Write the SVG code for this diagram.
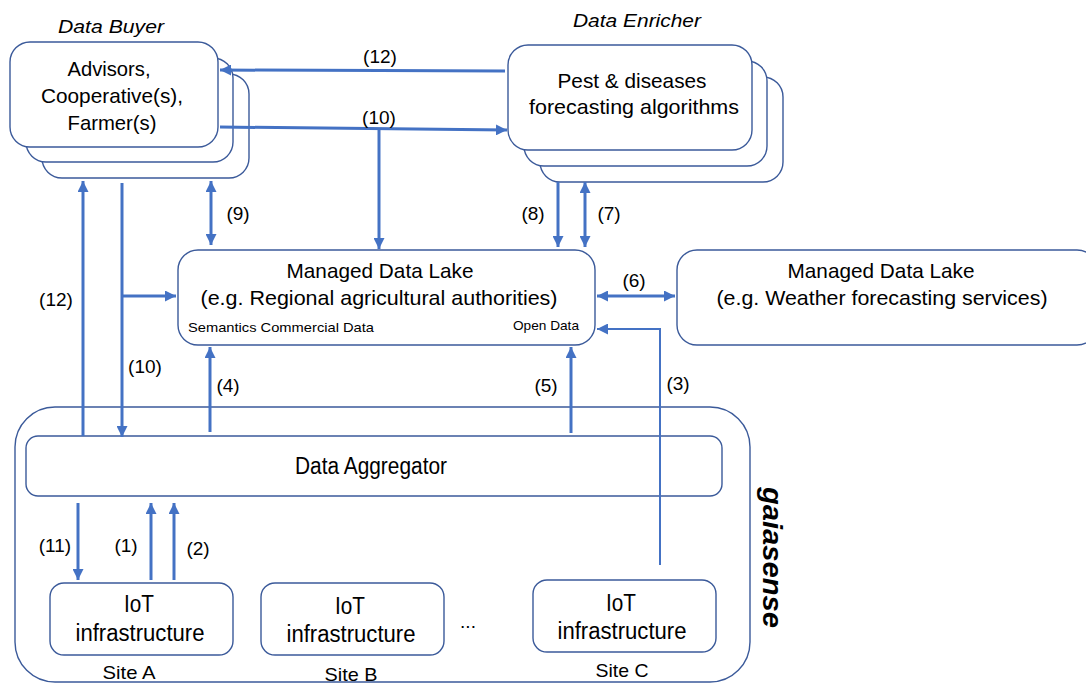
<svg xmlns="http://www.w3.org/2000/svg" width="1086" height="684" viewBox="0 0 1086 684">
<style>
.box{fill:#fff;stroke:#3B5A9A;stroke-width:1.4}
.t{font-family:"Liberation Sans",Arial,sans-serif;font-size:21px;fill:#000;text-anchor:middle}
.tc{font-family:"Liberation Sans",Arial,sans-serif;font-size:23px;fill:#000;text-anchor:middle}
.lb{font-family:"Liberation Sans",Arial,sans-serif;font-size:19px;fill:#000;text-anchor:middle}
.sm{font-family:"Liberation Sans",Arial,sans-serif;font-size:13px;fill:#000}
.it{font-family:"Liberation Sans",Arial,sans-serif;font-size:19px;font-style:italic;fill:#000;text-anchor:middle}
.c{fill:none;stroke:#4472C4;stroke-width:3}
.c2{fill:none;stroke:#4472C4;stroke-width:2}
</style>
<defs>
<marker id="ah" viewBox="0 0 10 10" refX="10" refY="5" markerWidth="11" markerHeight="11" markerUnits="userSpaceOnUse" orient="auto-start-reverse">
<path d="M0,0 L10,5 L0,10 Z" fill="#4472C4"/>
</marker>
</defs>
<rect width="1086" height="684" fill="#fff"/>

<g id="gaiasense">
<rect class="box" x="15" y="407" width="735" height="275" rx="40"/>
<text x="770" y="487" transform="rotate(90 770 487)" textLength="141" lengthAdjust="spacingAndGlyphs" style="font-family:'Liberation Sans',Arial,sans-serif;font-size:27px;font-weight:bold;font-style:italic" dominant-baseline="middle">gaiasense</text>
</g>

<g id="data-buyer">
<text class="it" x="111" y="33" textLength="106" lengthAdjust="spacingAndGlyphs">Data Buyer</text>
<rect class="box" x="42" y="74" width="207" height="104" rx="20"/>
<rect class="box" x="26" y="58" width="207" height="104" rx="20"/>
<rect class="box" x="10" y="42" width="208" height="105" rx="20"/>
<text class="t" x="109" y="76" textLength="83" lengthAdjust="spacingAndGlyphs">Advisors,</text>
<text class="t" x="112" y="103" textLength="142" lengthAdjust="spacingAndGlyphs">Cooperative(s),</text>
<text class="t" x="112" y="130" textLength="89" lengthAdjust="spacingAndGlyphs">Farmer(s)</text>
</g>

<g id="data-enricher">
<text class="it" x="637" y="27" textLength="128" lengthAdjust="spacingAndGlyphs">Data Enricher</text>
<rect class="box" x="540" y="77" width="243" height="105" rx="20"/>
<rect class="box" x="524" y="61" width="243" height="105" rx="20"/>
<rect class="box" x="508" y="45" width="244" height="105" rx="20"/>
<text class="t" x="632" y="88" textLength="149" lengthAdjust="spacingAndGlyphs">Pest &amp; diseases</text>
<text class="t" x="634" y="114" textLength="210" lengthAdjust="spacingAndGlyphs">forecasting algorithms</text>
</g>

<g id="lake1">
<rect class="box" x="178" y="250" width="417" height="95" rx="20"/>
<text class="t" x="380" y="278" textLength="187" lengthAdjust="spacingAndGlyphs">Managed Data Lake</text>
<text class="t" x="379" y="305" textLength="357" lengthAdjust="spacingAndGlyphs">(e.g. Regional agricultural authorities)</text>
<text class="sm" x="188" y="332" textLength="186" lengthAdjust="spacingAndGlyphs">Semantics  Commercial Data</text>
<text class="sm" x="513" y="330" textLength="66" lengthAdjust="spacingAndGlyphs">Open Data</text>
</g>

<g id="lake2">
<rect class="box" x="677" y="250" width="420" height="95" rx="20"/>
<text class="t" x="881" y="278" textLength="187" lengthAdjust="spacingAndGlyphs">Managed Data Lake</text>
<text class="t" x="882" y="305" textLength="331" lengthAdjust="spacingAndGlyphs">(e.g. Weather forecasting services)</text>
</g>

<g id="aggregator">
<rect class="box" x="26" y="436" width="696" height="60" rx="12"/>
<text class="tc" x="371" y="474" textLength="152" lengthAdjust="spacingAndGlyphs">Data Aggregator</text>
</g>

<g id="iot-a">
<rect class="box" x="50" y="583" width="183" height="72" rx="14"/>
<text class="tc" x="139" y="612" textLength="30" lengthAdjust="spacingAndGlyphs">IoT</text>
<text class="tc" x="140" y="641" textLength="129" lengthAdjust="spacingAndGlyphs">infrastructure</text>
<text class="lb" x="129" y="679" textLength="53" lengthAdjust="spacingAndGlyphs">Site A</text>
</g>
<g id="iot-b">
<rect class="box" x="261" y="583" width="183" height="72" rx="14"/>
<text class="tc" x="350" y="614" textLength="30" lengthAdjust="spacingAndGlyphs">IoT</text>
<text class="tc" x="351" y="642" textLength="129" lengthAdjust="spacingAndGlyphs">infrastructure</text>
<text class="lb" x="351" y="681" textLength="53" lengthAdjust="spacingAndGlyphs">Site B</text>
</g>
<text class="lb" x="468" y="628">...</text>
<g id="iot-c">
<rect class="box" x="533" y="580" width="183" height="72" rx="14"/>
<text class="tc" x="621" y="611" textLength="30" lengthAdjust="spacingAndGlyphs">IoT</text>
<text class="tc" x="622" y="639" textLength="129" lengthAdjust="spacingAndGlyphs">infrastructure</text>
<text class="lb" x="622" y="677" textLength="53" lengthAdjust="spacingAndGlyphs">Site C</text>
</g>

<g id="connectors">
<path class="c" d="M505,71 L220,70" marker-end="url(#ah)"/>
<path class="c" d="M220,127 L507,130" marker-end="url(#ah)"/>
<path class="c" d="M379,128 L379,249" marker-end="url(#ah)"/>
<path class="c" d="M211,181 L211,245" marker-start="url(#ah)" marker-end="url(#ah)"/>
<path class="c" d="M558,182 L558,247" marker-end="url(#ah)"/>
<path class="c" d="M585,182 L585,247" marker-start="url(#ah)" marker-end="url(#ah)"/>
<path class="c" d="M597,296 L675,296" marker-start="url(#ah)" marker-end="url(#ah)"/>
<path class="c" d="M83,436 L83,181" marker-end="url(#ah)"/>
<path class="c" d="M122,183 L122,437" marker-end="url(#ah)"/>
<path class="c" d="M122,296 L176,296" marker-end="url(#ah)"/>
<path class="c" d="M210,432 L210,347" marker-end="url(#ah)"/>
<path class="c" d="M571,433 L571,347" marker-end="url(#ah)"/>
<path class="c2" d="M660,565 L660,329 L597,329" marker-end="url(#ah)"/>
<path class="c" d="M78,503 L78,580" marker-end="url(#ah)"/>
<path class="c" d="M151,580 L151,503" marker-end="url(#ah)"/>
<path class="c" d="M174,580 L174,503" marker-end="url(#ah)"/>
<text class="lb" x="380" y="63">(12)</text>
<text class="lb" x="379" y="124">(10)</text>
<text class="lb" x="238" y="220">(9)</text>
<text class="lb" x="533" y="220">(8)</text>
<text class="lb" x="609" y="220">(7)</text>
<text class="lb" x="634" y="287">(6)</text>
<text class="lb" x="56" y="306">(12)</text>
<text class="lb" x="145" y="373">(10)</text>
<text class="lb" x="228" y="392">(4)</text>
<text class="lb" x="546" y="392">(5)</text>
<text class="lb" x="678" y="390">(3)</text>
<text class="lb" x="55" y="552">(11)</text>
<text class="lb" x="126" y="552">(1)</text>
<text class="lb" x="198" y="555">(2)</text>
</g>
</svg>
